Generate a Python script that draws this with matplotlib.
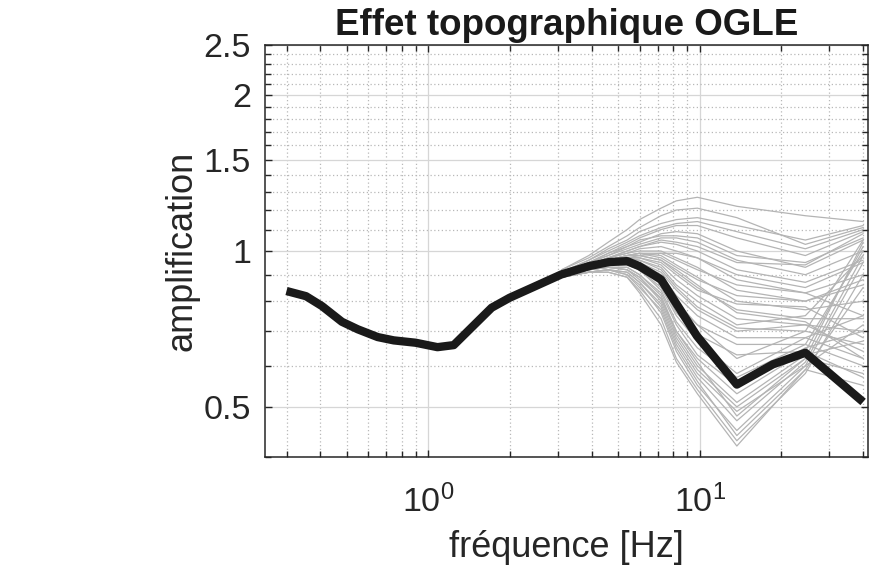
import numpy as np
import matplotlib.pyplot as plt
from matplotlib.ticker import FixedLocator, NullFormatter

# courbe moyenne (trait noir)
freq_moy = [0.30, 0.354, 0.405, 0.48, 0.549, 0.65, 0.745, 0.897, 1.08, 1.24, 1.71,
            1.99, 2.44, 3.09, 3.91, 4.63, 5.4, 5.98, 7.2, 8.24, 9.77, 13.7, 18.6, 24.5, 40.0]
amp_moy = [0.837, 0.818, 0.783, 0.73, 0.706, 0.682, 0.672, 0.665, 0.652, 0.658, 0.777,
           0.812, 0.852, 0.901, 0.935, 0.952, 0.956, 0.935, 0.881, 0.788, 0.685, 0.552,
           0.604, 0.636, 0.511]

# courbes individuelles (traits gris)
freq_g = [3.1, 3.9, 4.6, 5.4, 6.0, 7.2, 8.2, 9.8, 13.7, 24.5, 40.0]
amp_g = [
    [0.92, 0.98, 1.04, 1.10, 1.15, 1.21, 1.25, 1.27, 1.22, 1.17, 1.14],
    [0.92, 0.97, 1.02, 1.07, 1.11, 1.17, 1.20, 1.21, 1.16, 1.03, 1.11],
    [0.91, 0.96, 1.01, 1.05, 1.09, 1.13, 1.15, 1.16, 1.12, 1.05, 1.12],
    [0.91, 0.95, 0.99, 1.03, 1.06, 1.10, 1.12, 1.12, 1.06, 0.98, 1.09],
    [0.90, 0.95, 0.98, 1.02, 1.04, 1.08, 1.09, 1.08, 1.00, 0.93, 1.05],
    [0.90, 0.95, 0.98, 1.01, 1.03, 1.06, 1.06, 1.04, 0.96, 0.90, 1.00],
    [0.90, 0.94, 0.97, 1.00, 1.02, 1.04, 1.03, 1.00, 0.92, 0.87, 0.96],
    [0.90, 0.94, 0.97, 0.99, 1.01, 1.02, 1.00, 0.97, 0.88, 0.83, 0.90],
    [0.90, 0.94, 0.97, 0.99, 1.00, 1.00, 0.97, 0.93, 0.84, 0.80, 0.86],
    [0.90, 0.94, 0.96, 0.98, 0.99, 0.98, 0.94, 0.89, 0.80, 0.77, 0.80],
    [0.90, 0.93, 0.96, 0.98, 0.98, 0.96, 0.91, 0.85, 0.77, 0.74, 0.74],
    [0.90, 0.93, 0.96, 0.97, 0.97, 0.94, 0.88, 0.82, 0.74, 0.72, 0.70],
    [0.90, 0.93, 0.95, 0.97, 0.96, 0.92, 0.85, 0.78, 0.71, 0.70, 0.66],
    [0.90, 0.93, 0.95, 0.96, 0.95, 0.90, 0.82, 0.75, 0.68, 0.68, 0.62],
    [0.90, 0.93, 0.95, 0.96, 0.94, 0.88, 0.79, 0.72, 0.66, 0.66, 0.60],
    [0.90, 0.92, 0.94, 0.95, 0.93, 0.86, 0.76, 0.69, 0.63, 0.64, 0.57],
    [0.90, 0.92, 0.94, 0.94, 0.92, 0.84, 0.73, 0.65, 0.57, 0.66, 1.00],
    [0.90, 0.92, 0.93, 0.93, 0.90, 0.82, 0.70, 0.62, 0.53, 0.64, 1.02],
    [0.89, 0.92, 0.93, 0.92, 0.89, 0.80, 0.68, 0.59, 0.50, 0.62, 1.04],
    [0.89, 0.91, 0.92, 0.91, 0.87, 0.78, 0.66, 0.57, 0.47, 0.61, 0.98],
    [0.89, 0.91, 0.92, 0.90, 0.86, 0.76, 0.64, 0.55, 0.45, 0.60, 0.95],
    [0.89, 0.91, 0.91, 0.89, 0.84, 0.74, 0.62, 0.54, 0.43, 0.58, 0.90],
    [0.89, 0.91, 0.91, 0.89, 0.83, 0.72, 0.61, 0.53, 0.42, 0.59, 0.85],
    [0.90, 0.93, 0.95, 0.97, 0.98, 0.99, 0.99, 0.97, 0.90, 0.85, 0.95],
    [0.90, 0.94, 0.97, 1.00, 1.02, 1.05, 1.04, 1.02, 0.95, 0.94, 1.08],
    [0.90, 0.93, 0.96, 0.98, 0.99, 0.97, 0.93, 0.88, 0.82, 0.80, 0.88],
    [0.90, 0.93, 0.95, 0.96, 0.96, 0.93, 0.86, 0.80, 0.72, 0.75, 0.98],
    [0.90, 0.92, 0.94, 0.95, 0.94, 0.89, 0.80, 0.72, 0.62, 0.70, 1.05],
    [0.90, 0.92, 0.94, 0.94, 0.92, 0.85, 0.75, 0.67, 0.58, 0.68, 0.75],
    [0.90, 0.92, 0.93, 0.93, 0.90, 0.83, 0.72, 0.63, 0.55, 0.65, 0.70],
    [0.89, 0.92, 0.93, 0.92, 0.88, 0.81, 0.69, 0.60, 0.51, 0.63, 0.67],
    [0.89, 0.91, 0.92, 0.91, 0.87, 0.79, 0.67, 0.58, 0.49, 0.60, 0.72],
    [0.90, 0.93, 0.96, 0.98, 0.99, 0.99, 0.96, 0.92, 0.86, 0.83, 0.75],
    [0.90, 0.93, 0.95, 0.97, 0.97, 0.95, 0.90, 0.84, 0.79, 0.78, 0.68],
    [0.90, 0.93, 0.95, 0.96, 0.95, 0.91, 0.84, 0.77, 0.70, 0.72, 0.64],
    [0.91, 0.96, 1.00, 1.04, 1.07, 1.11, 1.13, 1.14, 1.09, 1.01, 1.10],
    [0.90, 0.95, 0.99, 1.02, 1.05, 1.07, 1.07, 1.06, 0.98, 0.95, 1.06],
    [0.90, 0.93, 0.96, 0.98, 0.98, 0.96, 0.92, 0.86, 0.76, 0.73, 0.62],
    [0.89, 0.92, 0.93, 0.92, 0.89, 0.81, 0.70, 0.61, 0.48, 0.62, 0.58],
    [0.89, 0.91, 0.92, 0.90, 0.85, 0.77, 0.65, 0.56, 0.44, 0.59, 0.55],
]

y_ticks = [0.5, 1, 1.5, 2, 2.5]
y_labels = ['0.5', '1', '1.5', '2', '2.5']
y_minor = [0.4, 0.6, 0.7, 0.8, 0.9, 1.1, 1.2, 1.3, 1.4, 1.6, 1.7, 1.8, 1.9,
           2.1, 2.2, 2.3, 2.4]
x_ticks = [1, 10]
x_labels = [r'$\mathregular{10^0}$', r'$\mathregular{10^1}$']

plt.rcParams['font.family'] = ['Liberation Sans', 'DejaVu Sans']

fig = plt.figure(figsize=(8.79, 5.67), dpi=100)
ax = fig.add_axes([0.3015, 0.194, 0.686, 0.7266])

for row in amp_g:
    ax.plot(freq_g, row, color='#b4b4b4', lw=0.9)
ax.plot(freq_moy, amp_moy, color='#1a1a1a', lw=6, solid_joinstyle='round',
        solid_capstyle='butt')

ax.set_xscale('log')
ax.set_yscale('log')
ax.set_xlim(0.25, 41.7)
ax.set_ylim(0.4, 2.5)

ax.yaxis.set_major_locator(FixedLocator(y_ticks))
ax.yaxis.set_minor_locator(FixedLocator(y_minor))
ax.yaxis.set_minor_formatter(NullFormatter())
ax.set_yticklabels(y_labels)
ax.xaxis.set_major_locator(FixedLocator(x_ticks))
ax.set_xticklabels(x_labels)

# grille facon matlab
ax.grid(True, which='major', color='#d6d6d6', lw=0.9, ls='-')
ax.grid(True, which='minor', color='#b8b8b8', lw=0.9, ls=(0, (1, 2)))
ax.set_axisbelow(True)

ax.tick_params(which='both', direction='in', top=True, right=True,
               labelsize=24.5, colors='#262626')
ax.tick_params(axis='y', pad=10)
ax.tick_params(axis='x', pad=20)
ax.tick_params(which='major', length=5, width=1)
ax.tick_params(which='minor', length=4, width=1)
for s in ax.spines.values():
    s.set_color('#262626')
    s.set_linewidth(1.1)

ax.set_xlabel('fréquence [Hz]', fontsize=26, color='#262626', labelpad=8)
ax.set_ylabel('amplification', fontsize=26, color='#262626', labelpad=3)
ax.set_title('Effet topographique OGLE', fontsize=26.5, fontweight='bold',
             color='#1a1a1a', pad=7)

fig.savefig('out.png', dpi=100)
